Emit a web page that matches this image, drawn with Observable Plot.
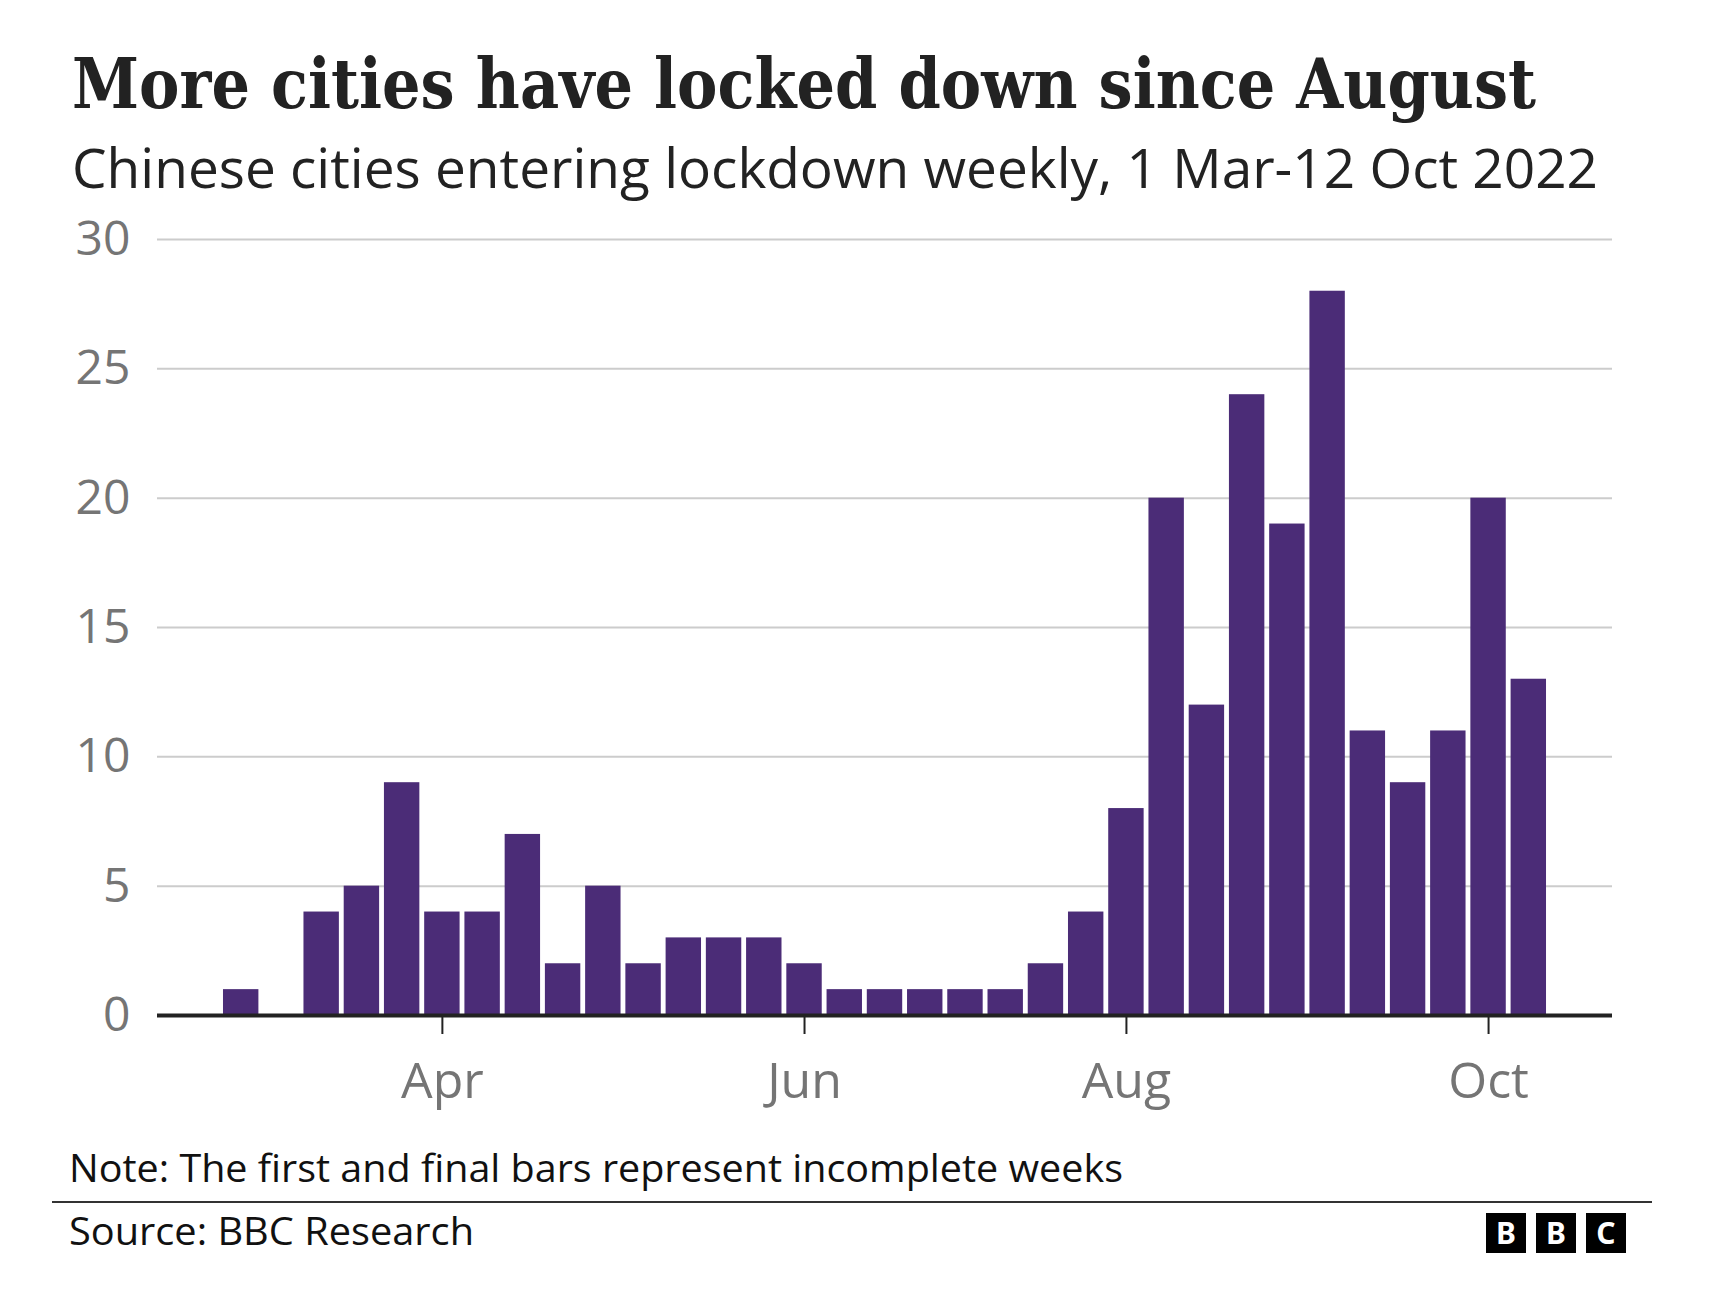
<!DOCTYPE html>
<html>
<head>
<meta charset="utf-8">
<script src="https://cdn.jsdelivr.net/npm/d3@7"></script>
<script src="https://cdn.jsdelivr.net/npm/@observablehq/plot@0.6"></script>
<style>
  html, body { margin: 0; padding: 0; background: #fff; }
  #page { position: relative; width: 1726px; height: 1300px; overflow: hidden; background: #fff; }
  .txt { position: absolute; white-space: nowrap; transform-origin: 0 0; }
  #chart { position: absolute; left: 0; top: 200px; }
  .logo { position: absolute; width: 40px; height: 40px; background: #000; color: #fff;
          font-family: "Noto Sans", sans-serif; font-weight: 700; font-size: 30px;
          line-height: 40px; text-align: center; }
  #rule { position: absolute; left: 52px; width: 1600px; top: 1201px; height: 2px; background: #333; }
</style>
</head>
<body>
<div id="page">
  <div id="chart"></div>
  <div id="rule"></div>
  <div class="logo" style="left:1486px; top:1213px;">B</div>
  <div class="logo" style="left:1536px; top:1213px;">B</div>
  <div class="logo" style="left:1586px; top:1213px;">C</div>
</div>
<script>
// ---- data ----
const weeks = [
  "2022-02-28","2022-03-07","2022-03-14","2022-03-21","2022-03-28",
  "2022-04-04","2022-04-11","2022-04-18","2022-04-25",
  "2022-05-02","2022-05-09","2022-05-16","2022-05-23","2022-05-30",
  "2022-06-06","2022-06-13","2022-06-20","2022-06-27",
  "2022-07-04","2022-07-11","2022-07-18","2022-07-25",
  "2022-08-01","2022-08-08","2022-08-15","2022-08-22","2022-08-29",
  "2022-09-05","2022-09-12","2022-09-19","2022-09-26",
  "2022-10-03","2022-10-10"
];
const citiesLocked = [1,0,4,5,9,4,4,7,2,5,2,3,3,3,2,1,1,1,1,1,2,4,8,20,12,24,19,28,11,9,11,20,13];
const xTickWeeks = ["2022-04-04","2022-06-06","2022-08-01","2022-10-03"];
const xTickLabels = ["Apr","Jun","Aug","Oct"];
const yTicks = [0,5,10,15,20,25,30];

const titleText = "More cities have locked down since August";
const subtitleText = "Chinese cities entering lockdown weekly, 1 Mar-12 Oct 2022";
const noteText = "Note: The first and final bars represent incomplete weeks";
const sourceText = "Source: BBC Research";

const table = weeks.map((w, i) => ({week: w, value: citiesLocked[i]}));

// ---- chart ----
const chart = Plot.plot({
  width: 1726,
  height: 920,
  marginLeft: 157,
  marginRight: 114,
  marginTop: 39,
  marginBottom: 105,
  style: {background: "white", fontFamily: "'Open Sans', sans-serif"},
  x: {type: "band", domain: weeks, paddingInner: 0.12, paddingOuter: 1.64, round: false},
  y: {domain: [0, 30]},
  marks: [
    Plot.gridY(yTicks, {stroke: "#cccccc", strokeOpacity: 1, strokeWidth: 2}),
    Plot.barY(table, {x: "week", y: "value", fill: "#4b2c77"}),
    Plot.ruleY([0], {stroke: "#222222", strokeWidth: 4}),
    Plot.axisY(yTicks, {tickSize: 0, tickPadding: 27, fontSize: 48, fill: "#757575", label: null}),
    Plot.axisX(xTickWeeks, {
      tickSize: 19, tickPadding: 28, fontSize: 50, fill: "#757575", stroke: "#222222", strokeWidth: 2,
      label: null, tickFormat: d => xTickLabels[xTickWeeks.indexOf(d)]
    })
  ]
});
document.getElementById("chart").appendChild(chart);

// ---- text placement (baseline + width fitting) ----
const ctx = document.createElement("canvas").getContext("2d");
function place(text, o) {
  const font = `${o.weight} ${o.size}px ${o.family}`;
  ctx.font = font;
  const m = ctx.measureText(text);
  const asc = m.fontBoundingBoxAscent, desc = m.fontBoundingBoxDescent;
  const el = document.createElement("div");
  el.className = "txt";
  el.textContent = text;
  el.style.font = font;
  el.style.lineHeight = (asc + desc) + "px";
  el.style.color = o.color;
  el.style.left = o.x + "px";
  el.style.top = (o.baseline - asc) + "px";
  el.style.transform = `scaleX(${o.width / m.width})`;
  document.getElementById("page").appendChild(el);
}
place(titleText,   {x: 72, baseline: 108, width: 1464, size: 69, weight: 700, family: "'DejaVu Serif', serif", color: "#222222"});
place(subtitleText,{x: 72, baseline: 188, width: 1526, size: 55, weight: 400, family: "'Open Sans', sans-serif", color: "#222222"});
place(noteText,    {x: 69, baseline: 1182, width: 1054, size: 38, weight: 400, family: "'Open Sans', sans-serif", color: "#111111"});
place(sourceText,  {x: 69, baseline: 1245, width: 405, size: 38, weight: 400, family: "'Open Sans', sans-serif", color: "#111111"});
</script>
</body>
</html>
